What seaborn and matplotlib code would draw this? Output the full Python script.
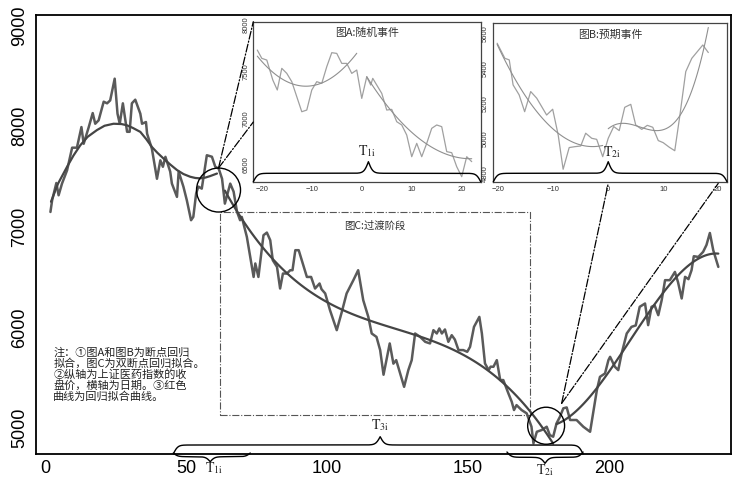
import numpy as np
import pandas as pd
import matplotlib
matplotlib.use("Agg")
import matplotlib.pyplot as plt
import seaborn as sns
from matplotlib.patches import Ellipse, Rectangle, ConnectionPatch
from matplotlib.lines import Line2D
from matplotlib.transforms import blended_transform_factory

# ---------------- data ----------------
main_day = [1.8, 2.4, 3.9, 4.7, 5.9, 7.7, 9.5, 11.2, 12.8, 13.6, 15.4, 16.8, 17.7, 18.9, 20.7,
            21.9, 23.0, 24.6, 25.6, 26.4, 27.5, 29.0, 29.9, 30.7, 31.9, 33.7, 34.3, 35.7, 36.1, 37.8,
            39.6, 40.8, 41.7, 42.6, 44.3, 44.9, 46.7, 47.3, 49.0, 50.2, 51.7, 52.5, 53.5, 54.3, 55.5,
            57.3, 59.1, 60.3, 61.5, 62.7,
            63.7, 65.6, 66.8, 68.0, 69.1, 69.7, 71.5, 73.9, 74.5, 75.6, 77.4, 78.6, 79.8, 80.7, 82.2,
            83.3, 84.3, 85.7, 86.9, 87.7, 88.7, 89.9, 91.0, 92.8, 94.3, 95.7, 97.3, 98.0, 99.3, 101.0,
            103.4, 105.2, 106.9, 109.3, 111.0, 112.8, 114.6, 115.8, 117.5, 118.8, 120.0, 122.2, 123.5,
            124.5, 125.9, 127.3, 128.8, 130.0, 131.2, 133.0, 134.8, 136.5, 137.7, 138.9, 139.8, 140.7,
            141.8, 143.0, 144.2, 145.3, 146.6, 148.3, 149.7, 150.7, 152.1, 154.0, 154.9, 156.0, 157.3,
            158.0, 159.0, 160.2, 161.4, 162.5, 164.3, 165.5, 166.3, 167.2, 169.0, 170.8, 172.5, 173.2,
            174.4, 176.1, 177.9, 179.0, 180.2,
            181.4, 182.6, 183.8, 185.0, 186.2, 188.5, 190.9, 193.3, 195.7, 196.8, 198.6, 199.8, 200.4,
            202.1, 203.3, 204.5, 206.3, 208.0, 209.5, 210.9, 212.8, 213.9, 215.1, 216.2, 217.5, 218.7,
            219.9, 221.6, 223.4, 224.5, 225.8, 227.0, 228.2, 229.3, 230.1, 231.7, 233.4, 234.6, 235.8,
            237.0, 238.8]
main_close = [7148, 7264, 7436, 7314, 7430, 7562, 7787, 7787, 7992, 7826, 7992, 8131, 8025, 8059, 8244,
              8228, 8257, 8473, 8125, 8025, 8228, 7945, 7945, 8228, 8264, 8125, 8025, 8042, 7926, 7777,
              7478, 7661, 7597, 7696, 7549, 7430, 7298, 7549, 7398, 7264, 7066, 7099, 7331, 7400, 7380,
              7712, 7697, 7597, 7580, 7478,
              7231, 7430, 7350, 7150, 7066, 7099, 6900, 6502, 6636, 6502, 6917, 6943, 6867, 6668, 6602,
              6387, 6536, 6536, 6569, 6569, 6768, 6768, 6668, 6502, 6502, 6387, 6437, 6380, 6338, 6172,
              5973, 6155, 6338, 6470, 6569, 6271, 6105, 5940, 5906, 5775, 5530, 5841, 5640,
              5675, 5543, 5410, 5576, 5675, 5940, 5906, 5857, 5841, 5973, 5940, 5990, 5940,
              5980, 5857, 5923, 5880, 5775, 5775, 5758, 5807, 6006, 6105, 5940, 5642, 5576,
              5610, 5609, 5675, 5477, 5477, 5345, 5261, 5179, 5228, 5179, 5146, 5013, 4848,
              4963, 4980, 5013, 4930, 4914,
              5047, 5112, 5196, 5205, 5080, 5080, 5013, 4963, 5377, 5509, 5543, 5675, 5708,
              5609, 5576, 5742, 5940, 6006, 6020, 6205, 6238, 6023, 6205, 6220, 6122, 6271,
              6470, 6470, 6552, 6450, 6288, 6503, 6480, 6569, 6708, 6701, 6751, 6820, 6939,
              6768, 6602]
break_days = [63.0, 181.0]          # T1 / T2 breakpoints of the double-break regression

# fitted curve of the first regime
fit1_day = [2.0, 4.5, 7.7, 10.0, 12.4, 15.0, 18.3, 21.0, 24.2, 27.0, 28.9, 31.0, 33.7, 35.8, 37.8,
            39.8, 41.9, 44.3, 46.7, 49.0, 51.4, 53.2, 55.0, 56.8, 58.5, 60.9]
fit1_val = [7250, 7430, 7597, 7710, 7811, 7895, 7962, 8005, 8025, 8022, 8010, 7984, 7944, 7872, 7794,
            7735, 7680, 7620, 7565, 7525, 7498, 7486, 7482, 7490, 7505, 7530]

insA_day = [-20.9, -20, -19, -17.8, -16.9, -16, -15, -14, -12, -11, -10, -9, -8, -7, -6, -5, -4, -3,
            -2, -1, 0, 1, 1.8, 2.2, 3, 4, 5, 6, 7, 8, 9, 10, 11, 12, 13, 14, 15, 16, 17, 18, 19, 20, 21, 22]
insA_val = [7732, 7643, 7625, 7411, 7304, 7536, 7482, 7393, 7071, 7089, 7304, 7393, 7375, 7554, 7704,
            7696, 7589, 7589, 7482, 7518, 7214, 7446, 7357, 7429, 7357, 7268, 7089, 7096, 6964, 6929,
            6821, 6589, 6732, 6589, 6732, 6893, 6929, 6911, 6643, 6632, 6482, 6375, 6589, 6536]

insB_day = [-20.2, -18.8, -18, -17.3, -16.2, -15.2, -14.1, -13, -11.2, -10.1, -9.1, -8.2, -7.1, -6.1,
            -5, -4.1, -3, -2.1, -1, 0, 1, 2, 3, 4.1, 5, 6.1, 7.1, 8.1, 9.1, 10, 11.1, 12.1, 13, 14.1,
            15.2, 17.2, 18.2]
insB_val = [5543, 5457, 5448, 5305, 5248, 5152, 5267, 5229, 5133, 5166, 5019, 4823, 4947, 4952, 4956,
            5029, 5000, 4994, 4895, 5000, 5067, 5044, 5177, 5194, 5076, 5051, 5074, 5063, 4987, 4975,
            4949, 4929, 5124, 5381, 5457, 5533, 5490]

main_xticks = [0, 50, 100, 150, 200]
main_yticks = [5000, 6000, 7000, 8000, 9000]
insA_xticks = [-20, -10, 0, 10, 20]
insA_yticks = [6500, 7000, 7500, 8000]
insB_xticks = [-20, -10, 0, 10, 20]
insB_yticks = [4800, 5000, 5200, 5400, 5600]

title_A = "图A:随机事件"
title_B = "图B:预期事件"
title_C = "图C:过渡阶段"
note = ("注：①图A和图B为断点回归\n拟合，图C为双断点回归拟合。\n②纵轴为上证医药指数的收\n"
        "盘价，横轴为日期。③红色\n曲线为回归拟合曲线。")

# ---------------- style ----------------
sns.set_style("white")
plt.rcParams["font.family"] = ["Liberation Sans", "Noto Sans CJK SC"]
plt.rcParams["mathtext.fontset"] = "stix"
CJK = ["Noto Sans CJK SC", "DejaVu Sans"]

W, H = 732, 480
fig = plt.figure(figsize=(W / 100, H / 100), dpi=100)

def fr(px0, py_top, px1, py_bot):
    return [px0 / W, 1 - py_bot / H, (px1 - px0) / W, (py_bot - py_top) / H]

ax = fig.add_axes(fr(35.5, 15, 731, 454))

df = pd.DataFrame({"day": main_day, "close": main_close})
sns.lineplot(data=df, x="day", y="close", ax=ax, color="#5a5a5a", lw=1.8,
             estimator=None, sort=False, zorder=3)
fit_kws = dict(color="#454545", lw=1.6, zorder=4)
sns.lineplot(x=fit1_day, y=fit1_val, ax=ax, estimator=None, sort=False, **fit_kws)
segs = [df[(df.day >= break_days[0]) & (df.day < break_days[1])], df[df.day >= break_days[1]]]
for seg in segs:
    sns.regplot(data=seg, x="day", y="close", order=3, ci=None, scatter=False, ax=ax,
                line_kws=fit_kws)

ax.set_xlim(-3.5, 243.3)
ax.set_ylim(4742, 9106)
ax.set_xticks(main_xticks)
ax.set_yticks(main_yticks)
ax.set_xlabel("")
ax.set_ylabel("")
ax.tick_params(direction="in", length=5, width=1, labelsize=13, colors="black")
ax.tick_params(axis="x", pad=4)
ax.tick_params(axis="y", pad=5)
for lbl in ax.get_yticklabels():
    lbl.set_rotation(90)
    lbl.set_va("center")
for sp in ax.spines.values():
    sp.set_color("black")
    sp.set_linewidth(1.3)

# circles
ax.add_patch(Ellipse((61.45, 7366), width=15.6, height=437, fill=False, ec="black", lw=1, zorder=5))
ax.add_patch(Ellipse((177.7, 5023), width=13.1, height=368, fill=False, ec="black", lw=1, zorder=5))
# transition box
ax.add_patch(Rectangle((62.06, 5129), 172.0 - 62.06, 7147 - 5129, fill=False, ls="-.",
                       lw=0.8, ec="#555555", zorder=2))
ax.text(117, 7008, title_C, ha="center", va="center", fontsize=7.5, family=CJK, color="#333333")
ax.text(2.8, 5805, note, ha="left", va="top", fontsize=8.0, linespacing=1.03, family=CJK,
        color="#222222")

# ---------------- insets ----------------
def inset(rect, xd, yv, xlim, ylim, xt, yt, title, order_r):
    a = fig.add_axes(rect, zorder=10)
    a.set_facecolor("white")
    d = pd.DataFrame({"t": xd, "v": yv})
    sns.lineplot(data=d, x="t", y="v", ax=a, color="#a0a0a0", lw=0.9, estimator=None, sort=False)
    sns.regplot(data=d[d.t < 0], x="t", y="v", order=2, ci=None, scatter=False, ax=a,
                line_kws=dict(color="#8f8f8f", lw=0.8))
    sns.regplot(data=d[d.t > 0] if order_r == 2 else d[d.t >= 0], x="t", y="v", order=order_r,
                ci=None, scatter=False, ax=a, line_kws=dict(color="#8f8f8f", lw=0.8))
    a.set_xlim(*xlim)
    a.set_ylim(*ylim)
    a.set_xticks(xt)
    a.set_yticks(yt)
    a.set_xlabel("")
    a.set_ylabel("")
    a.tick_params(labelsize=5.5, length=1.5, width=0.6, pad=1.5, colors="#333333")
    for lbl in a.get_yticklabels():
        lbl.set_rotation(90)
        lbl.set_va("center")
    for sp in a.spines.values():
        sp.set_color("#444444")
        sp.set_linewidth(0.9)
    a.text(0.5, 0.93, title, transform=a.transAxes, ha="center", va="center", fontsize=7.8,
           family=CJK, color="#333333")
    return a

axA = inset(fr(253.3, 21.7, 480.7, 181.7), insA_day, insA_val, (-21.7, 23.8), (6321, 8036),
            insA_xticks, insA_yticks, title_A, 2)
axB = inset(fr(493.3, 23.3, 727, 181.7), insB_day, insB_val, (-20.9, 21.6), (4752, 5657),
            insB_xticks, insB_yticks, title_B, 3)

# ---------------- connectors ----------------
def connect(xyA, axa, xyB, axb, coordsB):
    con = ConnectionPatch(xyA=xyA, coordsA="data", axesA=axa, xyB=xyB, coordsB=coordsB, axesB=axb,
                          ls="-.", lw=0.9, color="black")
    con.set_annotation_clip(False)
    con.set_zorder(20)
    fig.add_artist(con)

connect((61.45, 7585), ax, (0, 1), axA, "axes fraction")
connect((61.45, 7585), ax, (0, 0.373), axA, "axes fraction")
connect((183.2, 5245), ax, (0, 4742), axB, "data")
connect((183.2, 5245), ax, (20, 4742), axB, "data")

# ---------------- braces ----------------
def brace(x0, x1, xm, base, flat, tip, s=2.2, **kw):
    sig = lambda z: 1.0 / (1.0 + np.exp(-z))
    L, R = xm - x0, x1 - xm
    uL, uR = np.linspace(0, L, 300), np.linspace(0, R, 300)
    yL = base + flat * (2 * sig(uL / s) - 1) + (tip - flat) * 2 * sig((uL - L) / s)
    yR = base + flat * (2 * sig(uR / s) - 1) + (tip - flat) * 2 * sig((uR - R) / s)
    xs = np.concatenate([x0 + uL, (x1 - uR)[::-1]])
    ys = np.concatenate([yL, yR[::-1]])
    pts = fig.transFigure.inverted().transform(np.column_stack([xs, ys]))
    fig.add_artist(Line2D(pts[:, 0], pts[:, 1], transform=fig.transFigure, color="black",
                          lw=1.0, zorder=25, **kw))

def dxp(a, x):
    return a.transData.transform((x, a.get_ylim()[0]))[0]

ybot = ax.get_position().y0 * H
brace(dxp(ax, 45.4), dxp(ax, 190.8), dxp(ax, 118.8), ybot, 9, 17.3)
brace(dxp(ax, 45.4), dxp(ax, 72.7), dxp(ax, 58.5), ybot + 1, -3.7, -8.7)
brace(dxp(ax, 163.8), dxp(ax, 190.8), dxp(ax, 177.3), ybot + 2, -5.3, -11.3)

for a, tipx in [(axA, 1.33), (axB, 0.0)]:
    p = a.get_position()
    brace(p.x0 * W, p.x1 * W, dxp(a, tipx), p.y0 * H, 8.4, 20)

bt = blended_transform_factory(ax.transData, ax.transAxes)
ax.text(118.8, 0.066, r"$\mathrm{T}_{\mathrm{3i}}$", transform=bt, ha="center", va="center",
        fontsize=10, clip_on=False)
ax.text(59.9, -0.032, r"$\mathrm{T}_{\mathrm{1i}}$", transform=bt, ha="center", va="center",
        fontsize=10, clip_on=False)
ax.text(177.3, -0.036, r"$\mathrm{T}_{\mathrm{2i}}$", transform=bt, ha="center", va="center",
        fontsize=10, clip_on=False)
btA = blended_transform_factory(axA.transData, axA.transAxes)
axA.text(1.0, 0.19, r"$\mathrm{T}_{\mathrm{1i}}$", transform=btA, ha="center", va="center",
         fontsize=10)
btB = blended_transform_factory(axB.transData, axB.transAxes)
axB.text(0.7, 0.19, r"$\mathrm{T}_{\mathrm{2i}}$", transform=btB, ha="center", va="center",
         fontsize=10)

fig.savefig("out.png", dpi=100)
